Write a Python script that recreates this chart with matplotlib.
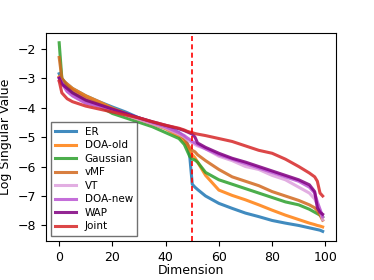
import numpy as np
import matplotlib
matplotlib.use('Agg')
import matplotlib.pyplot as plt

##################
# Data
##################

dims = [0, 1, 3, 5, 10, 15, 20, 25, 30, 35, 40, 45, 47, 48, 49, 50, 51, 52,
        55, 60, 65, 70, 75, 80, 85, 90, 94, 96, 97, 98, 99]

er = [-2.85, -3.05, -3.2, -3.35, -3.6, -3.8, -3.98, -4.15, -4.35, -4.5, -4.65,
      -4.85, -5.0, -5.2, -5.6, -6.6, -6.7, -6.78, -7.0, -7.25, -7.42, -7.58,
      -7.7, -7.83, -7.92, -8.0, -8.08, -8.12, -8.14, -8.16, -8.2]
doa_old = [-2.95, -3.05, -3.2, -3.35, -3.6, -3.8, -4.02, -4.2, -4.38, -4.55, -4.72,
           -4.98, -5.15, -5.3, -5.45, -5.6, -5.7, -5.85, -6.3, -6.8, -6.98, -7.13,
           -7.3, -7.48, -7.65, -7.8, -7.92, -7.97, -8.0, -8.02, -8.05]
gaussian = [-1.8, -3.0, -3.3, -3.5, -3.8, -3.95, -4.2, -4.35, -4.5, -4.65, -4.85,
            -5.05, -5.25, -5.45, -5.65, -5.75, -5.78, -5.85, -6.2, -6.45, -6.6, -6.75,
            -6.9, -7.05, -7.2, -7.3, -7.45, -7.55, -7.6, -7.65, -7.72]
vmf = [-2.3, -3.0, -3.25, -3.4, -3.7, -3.9, -4.1, -4.25, -4.4, -4.55, -4.7,
       -4.9, -5.05, -5.2, -5.35, -5.45, -5.5, -5.6, -5.8, -6.1, -6.35, -6.5,
       -6.65, -6.85, -7.0, -7.15, -7.3, -7.4, -7.5, -7.65, -7.82]
vt = [-3.1, -3.2, -3.45, -3.6, -3.85, -3.95, -4.1, -4.25, -4.4, -4.55, -4.7,
      -4.9, -5.0, -5.08, -5.15, -5.2, -5.25, -5.3, -5.4, -5.65, -5.8, -6.0,
      -6.1, -6.3, -6.45, -6.7, -6.9, -7.1, -7.3, -7.5, -7.8]
doa_new = [-3.0, -3.15, -3.45, -3.6, -3.85, -3.95, -4.1, -4.22, -4.35, -4.5, -4.65,
           -4.85, -4.95, -5.02, -5.08, -5.15, -5.2, -5.25, -5.4, -5.6, -5.75, -5.9,
           -6.05, -6.2, -6.35, -6.5, -6.7, -6.9, -7.2, -7.45, -7.7]
wap = [-3.0, -3.2, -3.35, -3.5, -3.75, -3.9, -4.05, -4.2, -4.35, -4.48, -4.6,
       -4.72, -4.78, -4.82, -4.86, -4.9, -5.0, -5.2, -5.35, -5.55, -5.72, -5.85,
       -6.0, -6.15, -6.3, -6.45, -6.62, -6.85, -7.4, -7.55, -7.62]
joint = [-3.1, -3.5, -3.7, -3.8, -3.95, -4.05, -4.15, -4.25, -4.35, -4.48, -4.6,
         -4.7, -4.76, -4.8, -4.83, -4.85, -4.88, -4.9, -4.95, -5.05, -5.15, -5.3,
         -5.45, -5.55, -5.75, -6.0, -6.22, -6.35, -6.5, -6.9, -7.0]

names = ['ER', 'DOA-old', 'Gaussian', 'vMF', 'VT', 'DOA-new', 'WAP', 'Joint']
series = [er, doa_old, gaussian, vmf, vt, doa_new, wap, joint]
colors = ['#1f77b4', '#ff7f0e', '#2ca02c', '#d2691e', '#dda0dd', '#ba55d3', '#800080', '#d62728']

cut_dim = 50

##################
# Figure
##################

fig = plt.figure(figsize=(3.74, 2.8), dpi=100)
ax = fig.add_axes([0.123, 0.14, 0.775, 0.741])

for name, vals, c in zip(names, series, colors):
    ax.plot(dims, vals, color=c, lw=2.2, alpha=0.85, label=name)

ax.axvline(cut_dim, color='red', ls=(0, (3, 2)), lw=1.2)

ax.set_xlabel('Dimension', fontsize=9, labelpad=0)
ax.set_ylabel('Log Singular Value', fontsize=9)
ax.tick_params(labelsize=9)
ax.set_xticks([0, 20, 40, 60, 80, 100])
ax.set_yticks([-8, -7, -6, -5, -4, -3, -2])

ax.legend(loc='lower left', fontsize=7.5, handlelength=2.0, labelspacing=0.34,
          borderpad=0.4, framealpha=0.8, edgecolor='0.3', fancybox=False)

fig.savefig('out.png', dpi=100)
